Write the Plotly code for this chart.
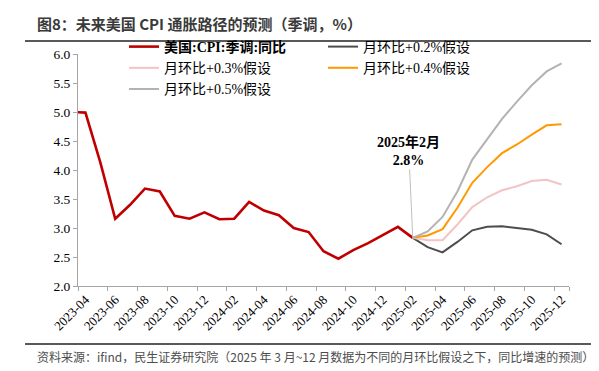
import plotly.graph_objects as go

# ---- data ----
months = ["2023-03", "2023-04", "2023-05", "2023-06", "2023-07", "2023-08", "2023-09",
          "2023-10", "2023-11", "2023-12", "2024-01", "2024-02", "2024-03", "2024-04",
          "2024-05", "2024-06", "2024-07", "2024-08", "2024-09", "2024-10", "2024-11",
          "2024-12", "2025-01", "2025-02", "2025-03", "2025-04", "2025-05", "2025-06",
          "2025-07", "2025-08", "2025-09", "2025-10", "2025-11", "2025-12"]

cpi_actual = [5.00, 4.99, 4.13, 3.16, 3.40, 3.68, 3.63, 3.21, 3.16, 3.27, 3.15, 3.16,
              3.45, 3.30, 3.22, 3.00, 2.93, 2.60, 2.47, 2.62, 2.74, 2.88, 3.02, 2.83]

fc_months = months[23:]   # 2025-02 .. 2025-12
mom_02 = [2.83, 2.67, 2.58, 2.76, 2.96, 3.02, 3.03, 3.00, 2.97, 2.89, 2.72]
mom_03 = [2.83, 2.79, 2.79, 3.06, 3.36, 3.53, 3.65, 3.72, 3.81, 3.83, 3.75]
mom_04 = [2.83, 2.87, 2.98, 3.35, 3.78, 4.05, 4.29, 4.44, 4.61, 4.77, 4.79]
mom_05 = [2.83, 2.94, 3.19, 3.63, 4.18, 4.53, 4.88, 5.18, 5.46, 5.70, 5.84]

names = ["<b>美国:CPI:季调:同比</b>", "月环比+0.2%假设", "月环比+0.3%假设",
         "月环比+0.4%假设", "月环比+0.5%假设"]
colors = ["#c00000", "#4d4d4d", "#f2c4c4", "#ff9900", "#b3b3b3"]

title_text = "图8：未来美国 CPI 通胀路径的预测（季调，%）"
source_text = "资料来源：ifind，民生证券研究院（2025 年 3 月~12 月数据为不同的月环比假设之下，同比增速的预测）"
annot_text = "<b>2025年2月</b><br><b>2.8%</b>"

SERIF = "Times New Roman, Liberation Serif, Noto Sans CJK SC, serif"
SANS = "Microsoft YaHei, Noto Sans CJK SC, sans-serif"

fig = go.Figure()
fig.add_trace(go.Scatter(x=months[:len(cpi_actual)], y=cpi_actual, mode="lines",
                         name=names[0], line=dict(color=colors[0], width=2.6)))
for nm, col, vals in zip(names[1:], colors[1:], [mom_02, mom_03, mom_04, mom_05]):
    fig.add_trace(go.Scatter(x=fc_months, y=vals, mode="lines", name=nm,
                             line=dict(color=col, width=2)))

W, H = 599, 371
L, R, T, B = 70, 38, 46, 93
pw, ph = W - L - R, H - T - B

def px(x):
    return (x - L) / pw

def py(y):
    return (H - B - y) / ph

fig.update_layout(
    width=W, height=H,
    margin=dict(l=L, r=R, t=T, b=B),
    paper_bgcolor="white", plot_bgcolor="white",
    showlegend=True,
    legend=dict(orientation="h", x=px(116), y=py(23), xanchor="left", yanchor="top",
                entrywidth=154, font=dict(family=SERIF, size=14, color="#000000"),
                bgcolor="rgba(0,0,0,0)", tracegroupgap=0, itemwidth=30),
    xaxis=dict(type="category", categoryorder="array", categoryarray=months,
               range=[0.5, len(months) - 0.5], tickmode="array",
               tickvals=months[1::2], ticktext=months[1::2], tickson="boundaries",
               tickangle=-45, ticks="outside", ticklen=4, tickcolor="#a6a6a6",
               showline=True, linecolor="#a6a6a6", linewidth=1, showgrid=False,
               zeroline=False, tickfont=dict(family=SERIF, size=13, color="#000000")),
    yaxis=dict(range=[2, 6], dtick=0.5, tick0=2, tickformat=".1f",
               ticks="outside", ticklen=4, tickcolor="#a6a6a6",
               showline=True, linecolor="#a6a6a6", linewidth=1, showgrid=False,
               zeroline=False, tickfont=dict(family=SERIF, size=13.5, color="#000000")),
)

fig.add_annotation(x="2025-02", y=cpi_actual[-1], xref="x", yref="y",
                   text=annot_text, showarrow=True, arrowhead=0, arrowwidth=1,
                   arrowcolor="#bfbfbf", ax=-4, ay=-87, align="center",
                   font=dict(family=SERIF, size=14, color="#000000"))

fig.add_annotation(x=px(27), y=py(16), xref="paper", yref="paper", xanchor="left",
                   yanchor="middle", showarrow=False, text="<b>" + title_text + "</b>",
                   font=dict(family=SANS, size=15, color="#3a3a3a"))
fig.add_annotation(x=px(27), y=py(349), xref="paper", yref="paper", xanchor="left",
                   yanchor="middle", showarrow=False, text=source_text,
                   font=dict(family=SANS, size=12, color="#4d4d4d"))

fig.add_shape(type="line", xref="paper", yref="paper", x0=px(17), x1=px(595),
              y0=py(33), y1=py(33), line=dict(color="#595959", width=2))
fig.add_shape(type="line", xref="paper", yref="paper", x0=px(17), x1=px(595),
              y0=py(336), y1=py(336), line=dict(color="#595959", width=2))

fig.write_html("out.html")
